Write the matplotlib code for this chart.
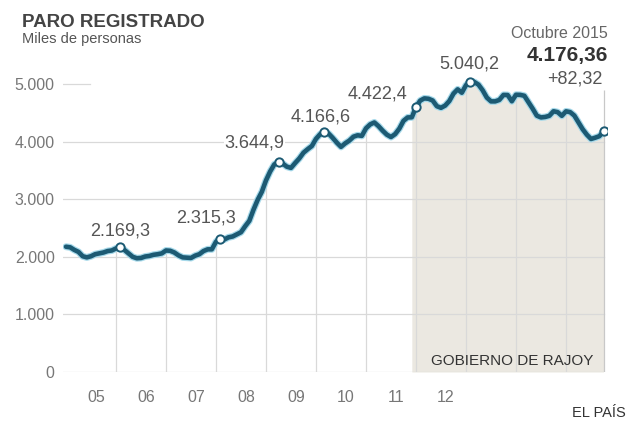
import numpy as np
import matplotlib
matplotlib.use("Agg")
import matplotlib.pyplot as plt
import matplotlib.patheffects as pe

plt.rcParams['font.family'] = ['Liberation Sans', 'DejaVu Sans']

# Paro registrado, miles de personas (monthly, Jan 2005 - Oct 2015)
paro_2005 = [2175, 2165, 2120, 2085, 2010, 1990, 2010, 2045, 2060, 2075, 2100, 2110]
paro_2006 = [2145, 2169.3, 2120, 2060, 2000, 1975, 1980, 2005, 2015, 2035, 2045, 2060]
paro_2007 = [2110, 2105, 2075, 2025, 1990, 1985, 1980, 2020, 2045, 2100, 2130, 2130]
paro_2008 = [2262, 2315.3, 2301, 2338, 2353, 2390, 2427, 2531, 2625, 2818, 2989, 3129]
paro_2009 = [3327, 3482, 3605, 3644.9, 3620, 3565, 3544, 3629, 3709, 3808, 3869, 3924]
paro_2010 = [4048, 4130, 4166.6, 4142, 4066, 3982, 3909, 3970, 4018, 4086, 4110, 4100]
paro_2011 = [4231, 4299, 4333, 4269, 4190, 4121, 4080, 4131, 4226, 4361, 4420, 4422.4]
paro_2012 = [4599.8, 4712, 4751, 4744, 4714, 4615, 4587, 4626, 4705, 4834, 4908, 4849]
paro_2013 = [4981, 5040.2, 5035, 4989, 4891, 4764, 4699, 4699, 4724, 4811, 4809, 4701]
paro_2014 = [4814, 4812, 4796, 4684, 4572, 4450, 4420, 4428, 4448, 4527, 4512, 4448]
paro_2015 = [4526, 4512, 4452, 4333, 4215, 4120, 4046, 4068, 4094, 4176.36]

# highlighted points: (month index from Jan 2005, label)
mark_idx = [13, 37, 51, 62, 84, 97]
mark_labels = ['2.169,3', '2.315,3', '3.644,9', '4.166,6', '4.422,4', '5.040,2']
mark_offsets = [(0, 16), (-14, 21), (-24, 19), (-4, 15), (-38, 13), (-1, 18)]

year_ticks = ['05', '06', '07', '08', '09', '10', '11', '12']
y_ticks = [0, 1000, 2000, 3000, 4000, 5000]
y_labels = ['0', '1.000', '2.000', '3.000', '4.000', '5.000']

rajoy_start = 83  # Dec 2011

values = np.array(paro_2005 + paro_2006 + paro_2007 + paro_2008 + paro_2009 + paro_2010
                  + paro_2011 + paro_2012 + paro_2013 + paro_2014 + paro_2015)
t = 2005 + np.arange(len(values)) / 12

line_col = '#1c5a73'
grid_col = '#d9d9d9'

fig = plt.figure(figsize=(6.4, 4.25), dpi=100)
ax = fig.add_axes([63 / 640, 53 / 425, 544 / 640, 311 / 425])
ax.set_xlim(2004.94, 2015.82)
ax.set_ylim(0, 5400)

# Rajoy shading under the curve
ax.fill_between(t[rajoy_start:], 0, values[rajoy_start:], color='#ebe8e1', lw=0, zorder=1)

# horizontal grid
for y in y_ticks[:-1]:
    ax.plot([t[0] - 0.06, t[-1]], [y, y], color=grid_col, lw=0.9, zorder=2)
ax.plot([t[0] - 0.06, 2005.48], [5000, 5000], color=grid_col, lw=0.9, zorder=2)

# vertical grid up to the curve
jan_idx = np.arange(12, len(values), 12)
ax.vlines(t[jan_idx], 0, values[jan_idx], color=grid_col, lw=0.9, zorder=2)
ax.vlines(t[-1], 0, 4900, color='#c8c8c8', lw=0.9, zorder=2)

ax.plot(t, values, color=line_col, lw=3.3, solid_capstyle='round', solid_joinstyle='round',
        zorder=3, path_effects=[pe.Stroke(linewidth=5.0, foreground='#a6d9ea'), pe.Normal()])

ax.plot(t[mark_idx + [len(values) - 1]], values[mark_idx + [len(values) - 1]], 'o',
        ms=6, mfc='white', mec=line_col, mew=1.4, zorder=4)

for i, lab, off in zip(mark_idx, mark_labels, mark_offsets):
    ax.annotate(lab, (t[i], values[i]), xytext=off, textcoords='offset pixels',
                ha='center', va='center', fontsize=13, color='#555555', zorder=5,
                bbox=dict(boxstyle='square,pad=0.05', fc='white', ec='none'))

ax.set_yticks(y_ticks)
ax.set_yticklabels(y_labels)
ax.set_xticks([2005.6 + k for k in range(len(year_ticks))])
ax.set_xticklabels(year_ticks)
ax.tick_params(axis='y', length=0, pad=6, labelsize=11.5, labelcolor='#777777')
ax.tick_params(axis='x', length=0, pad=13, labelsize=11.5, labelcolor='#777777')
for s in ax.spines.values():
    s.set_visible(False)

ax.text(2015.54, 121, 'GOBIERNO DE RAJOY', ha='right', va='baseline',
        fontsize=11, color='#333333', zorder=5)

fig.text(22 / 640, 1 - 27 / 425, 'PARO REGISTRADO', fontsize=13.5, fontweight='bold',
         color='#444444', va='baseline')
fig.text(22 / 640, 1 - 43 / 425, 'Miles de personas', fontsize=10.5, color='#555555',
         va='baseline')
fig.text(608 / 640, 1 - 38 / 425, 'Octubre 2015', fontsize=11.5, color='#666666',
         ha='right', va='baseline')
fig.text(608 / 640, 1 - 61 / 425, '4.176,36', fontsize=15, fontweight='bold',
         color='#333333', ha='right', va='baseline')
fig.text(603 / 640, 1 - 83 / 425, '+82,32', fontsize=13, color='#555555',
         ha='right', va='baseline')
fig.text(626 / 640, 1 - 417 / 425, 'EL PAÍS', fontsize=10.5, color='#333333',
         ha='right', va='baseline')

fig.savefig('out.png', dpi=100)
